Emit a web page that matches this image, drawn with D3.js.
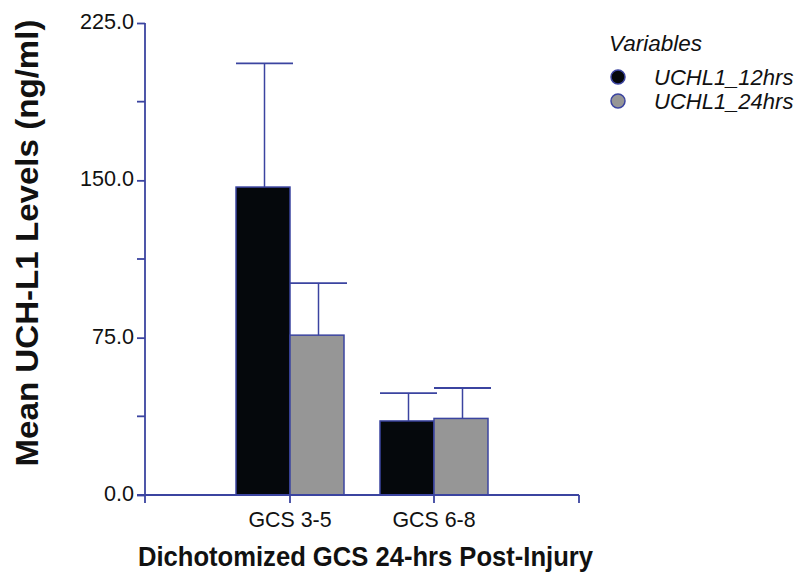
<!DOCTYPE html>
<html>
<head>
<meta charset="utf-8">
<script src="https://cdnjs.cloudflare.com/ajax/libs/d3/7.8.5/d3.min.js"></script>
<style>
  body { margin: 0; background: #fff; }
  svg { display: block; font-family: Arial, "Liberation Sans", sans-serif; }
</style>
</head>
<body>
<svg id="chart" width="801" height="573"></svg>
<script>
// chart data
const groups = ['GCS 3-5', 'GCS 6-8']
const seriesNames = ['UCHL1_12hrs', 'UCHL1_24hrs']
const means = {
	'UCHL1_12hrs': [146.8, 35.3],
	'UCHL1_24hrs': [76.2, 36.5],
}
const upperErr = {
	'UCHL1_12hrs': [205.8, 48.6],
	'UCHL1_24hrs': [101.0, 51.0],
}
const yTicks = [0, 75, 150, 225]
const yMinorTicks = [37.5, 112.5, 187.5]

const axisColor = '#3b44a0'
const textColor = '#111'
const fills = { 'UCHL1_12hrs': '#05080c', 'UCHL1_24hrs': '#969696' }

// squeeze or widen a text to the width it has in the source figure
function fitWidth (sel, k) {
	sel.each(function () {
		const w = this.getComputedTextLength()
		d3.select(this)
			.attr('textLength', w * k)
			.attr('lengthAdjust', 'spacingAndGlyphs')
	})
}

const svg = d3.select('#chart')

const y = d3.scaleLinear().domain([0, 225]).range([495, 23])
const x = d3.scaleBand()
	.domain(groups)
	.range([218, 506])
	.paddingInner(0.25)
	.paddingOuter(0.125)
const xs = d3.scaleBand()
	.domain(seriesNames)
	.range([0, x.bandwidth()])
const xLeft = 145
const xRight = 579

// bars
const rows = []
groups.forEach((g, gi) => {
	seriesNames.forEach((s) => {
		rows.push({ group: g, series: s, value: means[s][gi], hi: upperErr[s][gi] })
	})
})

const barX = (d) => x(d.group) + xs(d.series)

const bar = svg.append('g').selectAll('g')
	.data(rows)
	.join('g')

// error bars (upper only)
bar.append('line')
	.attr('x1', (d) => barX(d) + xs.bandwidth() / 2 + 1.5)
	.attr('x2', (d) => barX(d) + xs.bandwidth() / 2 + 1.5)
	.attr('y1', (d) => y(d.value))
	.attr('y2', (d) => y(d.hi))
	.attr('stroke', axisColor)
	.attr('stroke-width', 1.5)

bar.append('line')
	.attr('x1', (d) => barX(d))
	.attr('x2', (d) => barX(d) + xs.bandwidth() + 3)
	.attr('y1', (d) => y(d.hi))
	.attr('y2', (d) => y(d.hi))
	.attr('stroke', axisColor)
	.attr('stroke-width', 1.8)

bar.append('rect')
	.attr('x', barX)
	.attr('y', (d) => y(d.value))
	.attr('width', xs.bandwidth())
	.attr('height', (d) => y(0) - y(d.value))
	.attr('fill', (d) => fills[d.series])
	.attr('stroke', axisColor)
	.attr('stroke-width', 1.5)

// y axis
const yAxis = svg.append('g')
	.attr('transform', `translate(${xLeft},0)`)
	.call(d3.axisLeft(y).tickValues(yTicks).tickFormat(d3.format('.1f')).tickSize(8).tickPadding(3))
yAxis.select('.domain').remove()
yAxis.selectAll('line').attr('stroke', axisColor).attr('stroke-width', 1.8)
yAxis.selectAll('text')
	.attr('fill', textColor)
	.attr('dy', '0.25em')
	.style('font-size', '22.5px')
	.call(fitWidth, 0.96)

svg.append('g').selectAll('line')
	.data(yMinorTicks)
	.join('line')
	.attr('x1', xLeft - 8)
	.attr('x2', xLeft)
	.attr('y1', (d) => y(d))
	.attr('y2', (d) => y(d))
	.attr('stroke', axisColor)
	.attr('stroke-width', 1.8)

svg.append('line')
	.attr('x1', xLeft).attr('x2', xLeft)
	.attr('y1', y(225)).attr('y2', y(0) + 8)
	.attr('stroke', axisColor)
	.attr('stroke-width', 1.8)

// x axis
svg.append('line')
	.attr('x1', xLeft - 8).attr('x2', xRight)
	.attr('y1', y(0)).attr('y2', y(0))
	.attr('stroke', axisColor)
	.attr('stroke-width', 1.8)

svg.append('line')
	.attr('x1', xRight).attr('x2', xRight)
	.attr('y1', y(0)).attr('y2', y(0) + 8)
	.attr('stroke', axisColor)
	.attr('stroke-width', 1.8)

const xAxis = svg.append('g')
	.attr('transform', `translate(0,${y(0)})`)
	.call(d3.axisBottom(x).tickSize(8).tickPadding(8))
xAxis.select('.domain').remove()
xAxis.selectAll('line').attr('stroke', axisColor).attr('stroke-width', 1.8)
xAxis.selectAll('text')
	.attr('fill', textColor)
	.style('font-size', '22.5px')
	.call(fitWidth, 0.95)

// axis titles
svg.append('text')
	.attr('transform', 'translate(38,243) rotate(-90)')
	.attr('text-anchor', 'middle')
	.attr('fill', textColor)
	.style('font-size', '32px')
	.style('font-weight', 'bold')
	.attr('textLength', 447)
	.attr('lengthAdjust', 'spacingAndGlyphs')
	.text('Mean UCH-L1 Levels (ng/ml)')

svg.append('text')
	.attr('x', 365.5)
	.attr('y', 566)
	.attr('text-anchor', 'middle')
	.attr('fill', textColor)
	.style('font-size', '28px')
	.style('font-weight', 'bold')
	.attr('textLength', 455)
	.attr('lengthAdjust', 'spacingAndGlyphs')
	.text('Dichotomized GCS 24-hrs Post-Injury')

// legend
const legend = svg.append('g').attr('transform', 'translate(609,0)')
legend.append('text')
	.attr('x', 0)
	.attr('y', 51)
	.attr('fill', textColor)
	.style('font-size', '22.5px')
	.style('font-style', 'italic')
	.text('Variables')

const item = legend.selectAll('g.item')
	.data(seriesNames)
	.join('g')
	.attr('class', 'item')
	.attr('transform', (d, i) => `translate(0,${77 + i * 24})`)
item.append('circle')
	.attr('cx', 9)
	.attr('cy', 0)
	.attr('r', 7)
	.attr('fill', (d) => fills[d])
	.attr('stroke', axisColor)
	.attr('stroke-width', 1.5)
item.append('text')
	.attr('x', 45)
	.attr('y', 8)
	.attr('fill', textColor)
	.style('font-size', '22px')
	.style('font-style', 'italic')
	.text((d) => d)
</script>
</body>
</html>
